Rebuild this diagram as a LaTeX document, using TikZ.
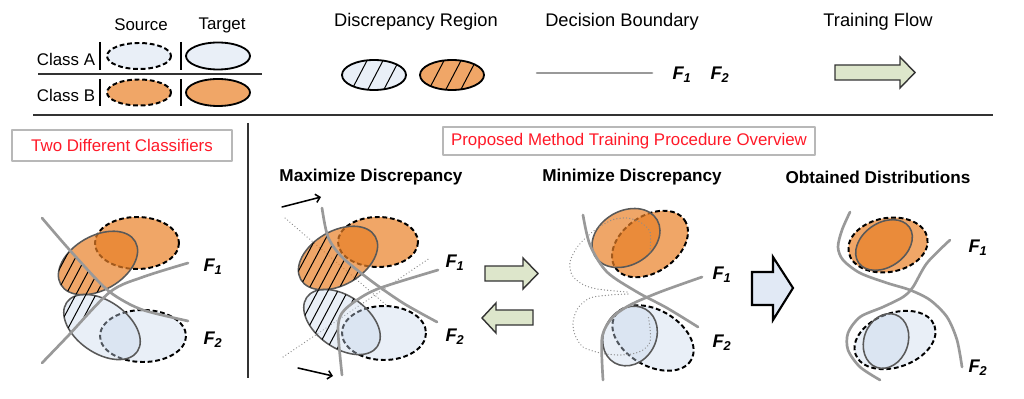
\documentclass[tikz,border=0pt]{standalone}
\usepackage{fontspec}
\setmainfont{Liberation Sans}
\usetikzlibrary{arrows.meta}

\definecolor{lightA}{RGB}{233,239,247}
\definecolor{lightB}{RGB}{240,166,103}
\definecolor{deepA}{RGB}{200,215,235}
\definecolor{deepB}{RGB}{232,128,40}
\definecolor{boundgray}{RGB}{153,153,153}
\definecolor{flowgreen}{RGB}{221,230,203}
\definecolor{flowblue}{RGB}{225,233,245}
\definecolor{labelred}{RGB}{255,25,40}

\tikzset{
  source/.style={draw=black, line width=1.4pt, line cap=butt, dash pattern=on 3.4pt off 2pt},
  target/.style={draw=black!65, line width=1.1pt},
  legtarget/.style={draw=black, line width=1.3pt},
  tgtB/.style={target, fill=deepB, fill opacity=0.7},
  tgtA/.style={target, fill=deepA, fill opacity=0.4},
  boundary/.style={draw=boundgray, line width=1.9pt},
  oldbound/.style={draw=black!45, line width=0.9pt, dash pattern=on 0.1pt off 2.2pt},
  hatch/.style={draw=black, line width=0.7pt},
  bar/.style={draw=black, line width=1.2pt, line cap=butt},
  rule/.style={draw=black!80, line width=1.5pt, line cap=butt},
  flowarrow/.style={draw=black!80, line width=1pt, fill=flowgreen, line join=miter},
  lbl/.style={inner sep=0pt, font=\fontsize{12}{14}\selectfont},
  lbltop/.style={inner sep=0pt, font=\fontsize{13}{15}\selectfont},
  head/.style={inner sep=0pt, font=\bfseries\fontsize{12.2}{14}\selectfont},
  flabel/.style={inner sep=0pt, font=\bfseries\itshape\fontsize{13}{15}\selectfont},
  titlebox/.style={draw=black!28, line width=0.8pt, text=labelred, inner sep=0pt,
    font=\fontsize{12}{14}\selectfont},
}

\begin{document}
\begin{tikzpicture}[x=0.025cm,y=-0.025cm,line cap=round,line join=round]
\useasboundingbox (0,0) rectangle (1024,399);

% legend: source / target for each class
\node[lbl] (lgSource) at (141,25) {Source};
\node[lbl] (lgTarget) at (222,25) {Target};
\node[lbl] (lgClassA) at (66,59) {Class A};
\node[lbl] (lgClassB) at (66,95) {Class B};
\draw[source, fill=lightA] (139,56) circle [x radius=32, y radius=13];
\draw[legtarget, fill=lightA] (218,56) circle [x radius=32, y radius=13.5];
\draw[source, fill=lightB] (139,92.5) circle [x radius=32, y radius=13];
\draw[legtarget, fill=lightB] (218,92.5) circle [x radius=32, y radius=13.5];
\foreach \bx in {100,181} {
  \draw[bar] (\bx,42) -- (\bx,70);
  \draw[bar] (\bx,79) -- (\bx,106);
}
\draw[rule] (38,74) -- (262,74);

% legend: discrepancy region
\node[lbltop] (lgDisc) at (416,22) {Discrepancy Region};
\fill[lightA] (374,75) circle [x radius=32, y radius=15];
\fill[lightB] (452,75) circle [x radius=32, y radius=15];
\begin{scope}
  \clip (374,75) circle [x radius=32, y radius=15]
        (452,75) circle [x radius=32, y radius=15];
  \foreach \hx in {349,365,381,426,443,458}
    \draw[hatch] (\hx,95) -- ++(22,-42);
\end{scope}
\draw[legtarget] (374,75) circle [x radius=32, y radius=15];
\draw[legtarget] (452,75) circle [x radius=32, y radius=15];

% legend: decision boundary
\node[lbltop] (lgBound) at (622,22) {Decision Boundary};
\coordinate (bndL) at (537,73);
\coordinate (bndR) at (652,73);
\draw[boundary] (bndL) -- (bndR);
\node[flabel] (lgF1) at (682,75) {F\textsubscript{1}};
\node[flabel] (lgF2) at (720,75) {F\textsubscript{2}};

% legend: training flow
\node[lbltop] (lgFlow) at (878,22) {Training Flow};
\draw[flowarrow] (835,65) -- (900,65) -- (900,57) -- (915,72.5) -- (900,88) -- (900,80) -- (835,80) -- cycle;

% separators
\draw[rule] (33,115) -- (993,115);
\draw[rule] (248,123) -- (248,378);

% titles
\node[titlebox, minimum width=5.5cm, minimum height=0.775cm] (twoBox) at (122,145.5) {Two Different Classifiers};
\node[titlebox, minimum width=9.3cm, minimum height=0.7cm] (procBox) at (629,141) {Proposed Method Training Procedure Overview};
\node[head] (maxHead) at (371,177) {Maximize Discrepancy};
\node[head] (minHead) at (632,177) {Minimize Discrepancy};
\node[head] (objHead) at (878,177) {Obtained Distributions};

% panel 1: two different classifiers
\draw[source, fill=lightB] (137,243) circle [x radius=42, y radius=26];
\draw[source, fill=lightA] (143,336) circle [x radius=43, y radius=26];
\draw[tgtB] (98,263) circle [x radius=43, y radius=27, rotate=30];
\draw[tgtA] (102,327) circle [x radius=43, y radius=26, rotate=-35];
\begin{scope}
  \clip (98,263) circle [x radius=43, y radius=27, rotate=30]
        (102,327) circle [x radius=43, y radius=26, rotate=-35];
  \clip (20,218) -- plot[smooth] coordinates {(42,218) (67,247) (100,283) (117,297) (143,310) (188,321)}
        -- (220,321) -- (220,400) -- (20,400) -- cycle;
  \clip (20,363) -- plot[smooth] coordinates {(42,363) (67,337) (110,292) (143,277) (188,263)}
        -- (220,263) -- (220,180) -- (20,180) -- cycle;
  \foreach \hx in {-100,-90,...,200}
    \draw[hatch] (\hx,400) -- ++(130,-245);
\end{scope}
\draw[boundary] plot[smooth] coordinates {(42,218) (67,247) (100,283) (117,297) (143,310) (188,321)};
\draw[boundary] plot[smooth] coordinates {(42,363) (67,337) (110,292) (143,277) (188,263)};
\node[flabel] (lF1) at (213,267) {F\textsubscript{1}};
\node[flabel] (lF2) at (213,340) {F\textsubscript{2}};

% panel 2: maximize discrepancy
\draw[oldbound] (285,218) -- (392,310);
\draw[oldbound] (283,357) -- (430,258);
\draw[source, fill=lightB] (378,242) circle [x radius=40, y radius=25];
\draw[source, fill=lightA] (384,333) circle [x radius=42, y radius=27];
\draw[tgtB] (338,258) circle [x radius=43, y radius=27, rotate=30];
\draw[tgtA] (342,322) circle [x radius=43, y radius=26, rotate=-35];
\begin{scope}
  \clip (338,258) circle [x radius=43, y radius=27, rotate=30]
        (342,322) circle [x radius=43, y radius=26, rotate=-35];
  \clip (260,190) -- (322,190) -- plot[smooth] coordinates {(322,208) (328,237) (342,257) (370,280) (403,303) (437,322)}
        -- (460,322) -- (460,400) -- (260,400) -- cycle;
  \clip (260,390) -- (342,390) -- plot[smooth] coordinates {(342,375) (338,330) (342,313) (357,300) (380,288) (438,270)}
        -- (460,270) -- (460,180) -- (260,180) -- cycle;
  \foreach \hx in {150,160,...,460}
    \draw[hatch] (\hx,400) -- ++(130,-245);
\end{scope}
\draw[boundary] plot[smooth] coordinates {(322,208) (328,237) (342,257) (370,280) (403,303) (437,322)};
\draw[boundary] plot[smooth] coordinates {(342,375) (338,330) (342,313) (357,300) (380,288) (438,270)};
\coordinate (pushA0) at (282,207);
\coordinate (pushA1) at (321,197);
\coordinate (pushB0) at (298,368);
\coordinate (pushB1) at (333,376);
\draw[line width=1.1pt, -{Straight Barb[length=3pt,width=6pt]}] (pushA0) -- (pushA1);
\draw[line width=1.1pt, -{Straight Barb[length=3pt,width=6pt]}] (pushB0) -- (pushB1);
\node[flabel] (xF1) at (455,263) {F\textsubscript{1}};
\node[flabel] (xF2) at (455,337) {F\textsubscript{2}};

% arrows between steps
\draw[flowarrow] (485,266) -- (523,266) -- (523,258) -- (538,273.5) -- (523,289) -- (523,281) -- (485,281) -- cycle;
\draw[flowarrow] (533,310) -- (496,310) -- (496,303) -- (482,318) -- (496,333) -- (496,325) -- (533,325) -- cycle;

% panel 3: minimize discrepancy
\draw[source, fill=lightB] (650,244) circle [x radius=42, y radius=28, rotate=35];
\draw[source, fill=lightA] (653,338) circle [x radius=44, y radius=28, rotate=-30];
\draw[tgtB] (626,238) circle [x radius=36, y radius=27, rotate=30];
\draw[tgtA] (630,336) circle [x radius=31, y radius=26, rotate=60];
\draw[oldbound] plot[smooth] coordinates {(650,252) (650,232) (640,222) (627,218) (612,220) (595,230) (578,246) (570,262) (572,275) (582,284) (597,289) (627,292)};
\draw[oldbound] plot[smooth] coordinates {(628,294) (610,295) (590,298) (578,308) (573,322) (575,335) (583,347) (600,353) (617,355) (632,354) (643,350) (650,342) (650,328) (648,315)};
\draw[boundary] plot[smooth] coordinates {(583,215) (590,245) (607,272) (637,292) (667,308) (698,327)};
\draw[boundary] plot[smooth] coordinates {(603,380) (602,338) (612,318) (630,305) (660,292) (702,277)};
\node[flabel] (mF1) at (722,275) {F\textsubscript{1}};
\node[flabel] (mF2) at (722,343) {F\textsubscript{2}};

% arrow to the result
\draw[flowarrow, fill=flowblue, draw=black, line width=1.5pt] (752,272) -- (773,272) -- (773,257) -- (793,288) -- (773,320) -- (773,305) -- (752,305) -- cycle;

% panel 4: obtained distributions
\draw[source, fill=lightB] (888,245) circle [x radius=40, y radius=27, rotate=10];
\draw[source, fill=lightA] (895,340) circle [x radius=42, y radius=27, rotate=20];
\draw[tgtB] (884,245) circle [x radius=31, y radius=22, rotate=35];
\draw[tgtA] (886,341) circle [x radius=28, y radius=22, rotate=70];
\draw[boundary] plot[smooth] coordinates {(850,212) (842,230) (838,247) (843,260) (860,273) (887,283) (910,290) (930,300) (947,317) (957,340) (962,367)};
\draw[boundary] plot[smooth] coordinates {(880,380) (860,367) (848,350) (848,333) (860,317) (883,307) (903,297) (913,287) (927,263) (950,240)};
\node[flabel] (oF1) at (978,248) {F\textsubscript{1}};
\node[flabel] (oF2) at (978,368) {F\textsubscript{2}};

\end{tikzpicture}
\end{document}
